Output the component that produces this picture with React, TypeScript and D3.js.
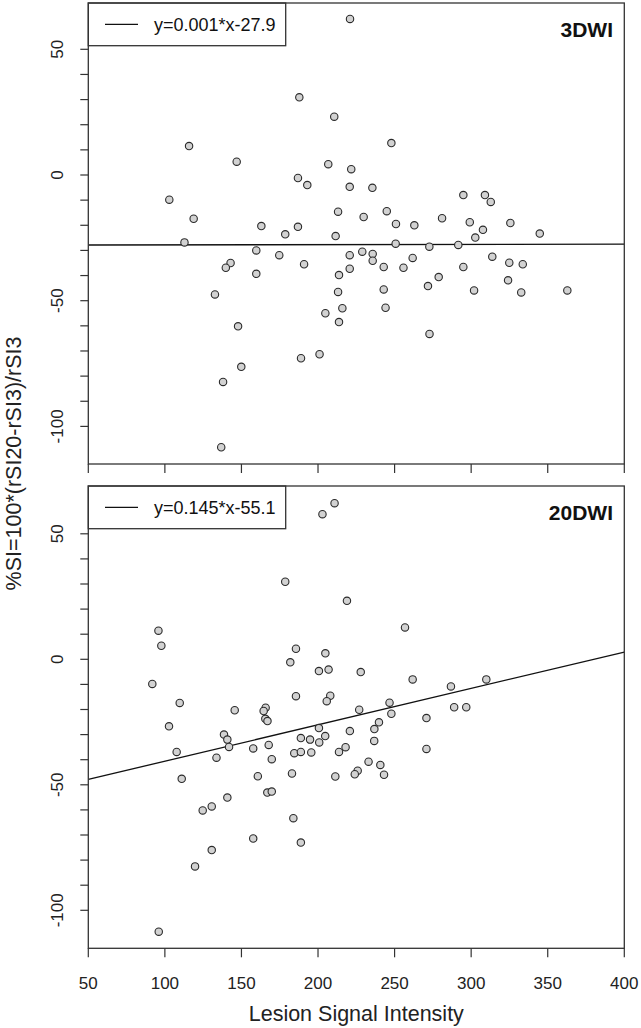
import React from "react";
import * as d3 from "d3";

// Top panel (3DWI)
const topX = [115.8, 146.9, 187.8, 186.9, 193.0, 102.9, 118.8, 163.0, 178.6, 186.9, 112.8, 220.9, 210.6, 247.9, 206.7, 221.7, 220.7, 235.5, 294.9, 309.0, 312.8, 213.1, 229.8, 244.9, 250.9, 262.9, 281.0, 299.1, 307.7, 325.6, 344.8, 211.5, 302.7, 159.7, 174.7, 190.9, 142.9, 139.8, 159.7, 132.7, 147.8, 220.7, 228.9, 220.7, 213.7, 213.1, 204.8, 215.9, 213.7, 250.7, 272.7, 291.6, 235.7, 235.7, 242.9, 255.8, 261.8, 294.9, 313.8, 324.9, 333.7, 278.8, 271.8, 242.9, 301.9, 324.1, 332.7, 362.8, 244.1, 272.8, 201.0, 188.9, 149.9, 138.0, 136.8];
const topY = [11.5, 5.3, 30.9, -1.2, -4.0, -9.8, -17.4, -20.3, -23.6, -20.6, -26.8, 62.1, 23.2, 12.7, 4.3, 2.3, -4.7, -5.1, -8.0, -8.0, -10.7, -14.6, -16.7, -14.4, -19.5, -20.0, -17.2, -18.8, -21.8, -19.1, -23.3, -24.3, -24.9, -30.0, -31.9, -35.5, -35.0, -36.9, -39.3, -47.5, -60.2, -31.9, -30.5, -37.3, -39.8, -46.5, -55.0, -53.0, -58.5, -27.3, -28.5, -27.8, -31.4, -34.1, -36.6, -36.9, -33.0, -36.6, -32.5, -34.9, -35.5, -40.6, -44.2, -45.5, -45.9, -41.9, -46.7, -45.9, -52.8, -63.2, -71.3, -72.9, -76.3, -82.3, -108.3];

// Bottom panel (20DWI)
const bottomX = [95.8, 97.7, 178.6, 185.6, 181.9, 91.8, 200.6, 185.6, 210.8, 202.9, 218.9, 256.8, 204.8, 206.9, 227.9, 261.8, 286.8, 309.9, 208.0, 109.7, 102.7, 107.7, 111.0, 145.6, 138.6, 140.8, 141.9, 133.7, 140.8, 124.7, 130.6, 130.6, 157.7, 205.7, 165.8, 164.5, 165.6, 167.0, 200.6, 204.7, 200.8, 188.8, 194.8, 184.5, 188.8, 195.6, 213.7, 157.7, 167.8, 169.8, 160.7, 183.0, 211.3, 166.9, 169.8, 183.9, 188.8, 246.7, 247.9, 226.9, 288.9, 296.8, 270.8, 270.8, 239.8, 236.8, 220.8, 236.7, 218.0, 233.0, 240.7, 225.9, 224.0, 243.1, 119.7, 96.0];
const bottomY = [11.4, 5.4, 30.9, 4.2, -1.2, -9.8, -4.7, -14.7, 62.2, 57.8, 23.3, 12.7, 2.4, -4.1, -5.1, -8.0, -10.8, -8.0, -14.5, -17.4, -26.7, -36.9, -47.6, -20.3, -30.0, -32.0, -34.9, -39.2, -55.1, -60.2, -58.6, -76.0, -71.4, -16.7, -19.3, -20.6, -23.7, -24.6, -27.4, -30.6, -33.1, -31.4, -32.0, -37.4, -36.9, -37.1, -36.9, -35.5, -34.1, -39.8, -46.6, -45.5, -46.7, -53.1, -52.7, -63.3, -73.0, -17.3, -21.7, -20.1, -19.1, -19.1, -23.4, -35.7, -25.1, -27.8, -28.6, -32.5, -35.0, -40.8, -42.1, -44.4, -45.8, -46.0, -82.5, -108.5];

const panelNames = ["3DWI", "20DWI"];
const slopes = [0.001, 0.145];
const intercepts = [-27.9, -55.1];
const legendLabels = ["y=0.001*x-27.9", "y=0.145*x-55.1"];
const xTicks = [50, 100, 150, 200, 250, 300, 350, 400];
const yTicks = [-100, -90, -80, -70, -60, -50, -40, -30, -20, -10, 0, 10, 20, 30, 40, 50];
const yLabelTicks = [-100, -50, 0, 50];
const xTitle = "Lesion Signal Intensity";
const yTitle = "%SI=100*(rSI20-rSI3)/rSI3";

const FONT = "'Liberation Sans', Arial, Helvetica, sans-serif";
const LINE = "#333";

const left = 88.3;
const right = 624.3;
const x = d3.scaleLinear().domain([50, 400]).range([left, right]);

const panels = [
  { top: 3, bottom: 464, y0: 175, ppu: 2.514, xs: topX, ys: topY },
  { top: 486, bottom: 948.3, y0: 659.3, ppu: 2.51, xs: bottomX, ys: bottomY },
];

function Panel({ p, i }: { p: typeof panels[0]; i: number }) {
  const yMax = (p.y0 - p.top) / p.ppu;
  const yMin = (p.y0 - p.bottom) / p.ppu;
  const y = d3.scaleLinear().domain([yMin, yMax]).range([p.bottom, p.top]);
  const line = d3.line<number>().x((v) => x(v)).y((v) => y(slopes[i] * v + intercepts[i]));
  const legW = 197.4;
  const legH = 42.7;
  const legMid = p.top + legH / 2;
  return (
    <g>
      <defs>
        <clipPath id={`clip${i}`}>
          <rect x={left} y={p.top} width={right - left} height={p.bottom - p.top} />
        </clipPath>
      </defs>
      <g clipPath={`url(#clip${i})`}>
        <path d={line([50, 400]) || ""} fill="none" stroke="#111" strokeWidth={1.3} />
      </g>
      {p.xs.map((v, k) => (
        <circle key={k} cx={x(v)} cy={y(p.ys[k])} r={3.7} fill="#d2d2d2" stroke="#2a2a2a" strokeWidth={1.1} />
      ))}
      <rect x={left} y={p.top} width={legW} height={legH} fill="#fff" stroke={LINE} strokeWidth={1.3} />
      <line x1={105} x2={138} y1={legMid} y2={legMid} stroke="#111" strokeWidth={1.3} />
      <text x={154} y={legMid} dy="0.35em" fontSize={18} fontFamily={FONT} fill="#111">{legendLabels[i]}</text>
      <text x={613} y={p.top + 34} textAnchor="end" fontSize={21} fontWeight="bold" fontFamily={FONT} fill="#111">{panelNames[i]}</text>
      <rect x={left} y={p.top} width={right - left} height={p.bottom - p.top} fill="none" stroke={LINE} strokeWidth={1.3} />
      {yTicks.map((t) => (
        <line key={t} x1={left - 8} x2={left} y1={y(t)} y2={y(t)} stroke={LINE} strokeWidth={1.2} />
      ))}
      {yLabelTicks.map((t) => (
        <text key={t} transform={`translate(63,${y(t)}) rotate(-90)`} textAnchor="middle" fontSize={17} fontFamily={FONT} fill="#222">{t}</text>
      ))}
      {xTicks.map((t) => (
        <line key={t} x1={x(t)} x2={x(t)} y1={p.bottom} y2={p.bottom + 9} stroke={LINE} strokeWidth={1.2} />
      ))}
    </g>
  );
}

export default function App() {
  return (
    <svg width={641} height={1028} style={{ position: "absolute", left: 0, top: 0, background: "#fff" }}>
      <rect width={641} height={1028} fill="#fff" />
      {panels.map((p, i) => (
        <Panel key={i} p={p} i={i} />
      ))}
      {xTicks.map((t) => (
        <text key={t} x={x(t)} y={989} textAnchor="middle" fontSize={17} fontFamily={FONT} fill="#222">{t}</text>
      ))}
      <text x={(left + right) / 2} y={1021} textAnchor="middle" fontSize={21.5} fontFamily={FONT} fill="#222">{xTitle}</text>
      <text transform={`translate(21,463.5) rotate(-90)`} textAnchor="middle" fontSize={21.5} fontFamily={FONT} fill="#222">{yTitle}</text>
    </svg>
  );
}
